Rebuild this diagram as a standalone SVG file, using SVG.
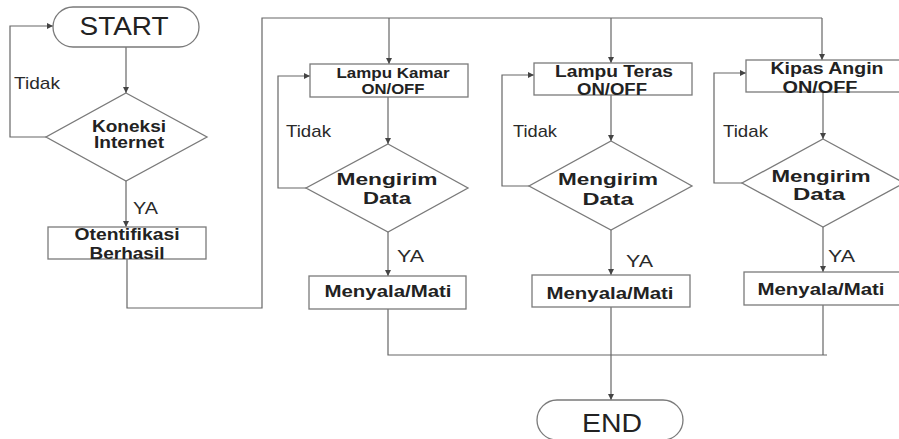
<svg xmlns="http://www.w3.org/2000/svg" width="899" height="439" viewBox="0 0 899 439">
<style>
.shape{fill:#fff;stroke:#7a7a7a;stroke-width:1.3}
.ln{fill:none;stroke:#666;stroke-width:1.2}
.t{font-family:"Liberation Sans",Arial,sans-serif;fill:#222;text-anchor:middle}
.b{font-weight:bold}
.lbl{font-family:"Liberation Sans",Arial,sans-serif;fill:#2a2a2a;font-size:17px}
</style>
<defs>
<marker id="ah" markerUnits="userSpaceOnUse" markerWidth="8" markerHeight="8" refX="6" refY="3" orient="auto">
<path d="M0,0 L6,3 L0,6 Z" fill="#444"/>
</marker>
</defs>
<rect width="899" height="439" fill="#fff"/>
<g id="connectors">
<path class="ln" d="M126,47 V93" marker-end="url(#ah)"/>
<path class="ln" d="M46,137 H10 V26 H53" marker-end="url(#ah)"/>
<path class="ln" d="M126,181 V227" marker-end="url(#ah)"/>
<path class="ln" d="M127,259 V308 H262 V18 H822"/>
<path class="ln" d="M389,18 V64" marker-end="url(#ah)"/>
<path class="ln" d="M611,18 V63" marker-end="url(#ah)"/>
<path class="ln" d="M822,18 V60" marker-end="url(#ah)"/>
<path class="ln" d="M388,97 V144" marker-end="url(#ah)"/>
<path class="ln" d="M306,188 H278 V76 H310" marker-end="url(#ah)"/>
<path class="ln" d="M388,232 V276" marker-end="url(#ah)"/>
<path class="ln" d="M611,95 V141" marker-end="url(#ah)"/>
<path class="ln" d="M529,186 H502 V75 H534" marker-end="url(#ah)"/>
<path class="ln" d="M611,230 V275" marker-end="url(#ah)"/>
<path class="ln" d="M823,92 V139" marker-end="url(#ah)"/>
<path class="ln" d="M742,183 H714 V73 H746" marker-end="url(#ah)"/>
<path class="ln" d="M823,227 V272" marker-end="url(#ah)"/>
<path class="ln" d="M388,309 V355 H827"/>
<path class="ln" d="M823,305 V355"/>
<path class="ln" d="M611,307 V400" marker-end="url(#ah)"/>
<text class="lbl" x="14" y="89" textLength="46" lengthAdjust="spacingAndGlyphs">Tidak</text>
<text class="lbl" x="133" y="214" font-size="19" textLength="25" lengthAdjust="spacingAndGlyphs">YA</text>
<text class="lbl" x="286" y="137" textLength="45" lengthAdjust="spacingAndGlyphs">Tidak</text>
<text class="lbl" x="397" y="262" textLength="27" lengthAdjust="spacingAndGlyphs">YA</text>
<text class="lbl" x="513" y="137" textLength="44" lengthAdjust="spacingAndGlyphs">Tidak</text>
<text class="lbl" x="626" y="267" textLength="27" lengthAdjust="spacingAndGlyphs">YA</text>
<text class="lbl" x="723" y="137" textLength="45" lengthAdjust="spacingAndGlyphs">Tidak</text>
<text class="lbl" x="828" y="262" textLength="27" lengthAdjust="spacingAndGlyphs">YA</text>
</g>
<g id="start">
<rect class="shape" x="53" y="7" width="146" height="40" rx="20"/>
<text class="t" x="124" y="35" font-size="25" textLength="89" lengthAdjust="spacingAndGlyphs">START</text>
</g>
<g id="koneksi">
<polygon class="shape" points="126,93 207,137 126,181 46,137"/>
<text class="t b" x="129" y="132" font-size="16" textLength="74" lengthAdjust="spacingAndGlyphs">Koneksi</text>
<text class="t b" x="129" y="148" font-size="16" textLength="70" lengthAdjust="spacingAndGlyphs">Internet</text>
</g>
<g id="otentifikasi">
<rect class="shape" x="48" y="227" width="158" height="32"/>
<text class="t b" x="127" y="240" font-size="16" textLength="105" lengthAdjust="spacingAndGlyphs">Otentifikasi</text>
<text class="t b" x="127" y="259" font-size="16" textLength="75" lengthAdjust="spacingAndGlyphs">Berhasil</text>
</g>
<g id="lampu-kamar">
<rect class="shape" x="310" y="64" width="158" height="33"/>
<text class="t b" x="393" y="78" font-size="14" textLength="113" lengthAdjust="spacingAndGlyphs">Lampu Kamar</text>
<text class="t b" x="393" y="94" font-size="14" textLength="63" lengthAdjust="spacingAndGlyphs">ON/OFF</text>
</g>
<g id="kirim-1">
<polygon class="shape" points="388,144 468,188 388,232 306,188"/>
<text class="t b" x="387" y="185" font-size="16" textLength="101" lengthAdjust="spacingAndGlyphs">Mengirim</text>
<text class="t b" x="387" y="204" font-size="16" textLength="48" lengthAdjust="spacingAndGlyphs">Data</text>
</g>
<g id="nyala-1">
<rect class="shape" x="309" y="276" width="157" height="33"/>
<text class="t b" x="388" y="297" font-size="16" textLength="127" lengthAdjust="spacingAndGlyphs">Menyala/Mati</text>
</g>
<g id="lampu-teras">
<rect class="shape" x="534" y="63" width="158" height="32"/>
<text class="t b" x="614" y="77" font-size="16" textLength="118" lengthAdjust="spacingAndGlyphs">Lampu Teras</text>
<text class="t b" x="612" y="95" font-size="16" textLength="70" lengthAdjust="spacingAndGlyphs">ON/OFF</text>
</g>
<g id="kirim-2">
<polygon class="shape" points="611,141 692,186 611,230 529,186"/>
<text class="t b" x="608" y="185" font-size="16" textLength="100" lengthAdjust="spacingAndGlyphs">Mengirim</text>
<text class="t b" x="608" y="205" font-size="16" textLength="51" lengthAdjust="spacingAndGlyphs">Data</text>
</g>
<g id="nyala-2">
<rect class="shape" x="532" y="275" width="158" height="32"/>
<text class="t b" x="610" y="299" font-size="16" textLength="127" lengthAdjust="spacingAndGlyphs">Menyala/Mati</text>
</g>
<g id="kipas-angin">
<rect class="shape" x="746" y="60" width="158" height="32"/>
<text class="t b" x="827" y="74" font-size="16" textLength="113" lengthAdjust="spacingAndGlyphs">Kipas Angin</text>
<text class="t b" x="820" y="93" font-size="16" textLength="75" lengthAdjust="spacingAndGlyphs">ON/OFF</text>
</g>
<g id="kirim-3">
<polygon class="shape" points="823,139 904,183 823,227 742,183"/>
<text class="t b" x="821" y="182" font-size="16" textLength="99" lengthAdjust="spacingAndGlyphs">Mengirim</text>
<text class="t b" x="819" y="200" font-size="16" textLength="52" lengthAdjust="spacingAndGlyphs">Data</text>
</g>
<g id="nyala-3">
<rect class="shape" x="744" y="272" width="158" height="33"/>
<text class="t b" x="821" y="295" font-size="16" textLength="127" lengthAdjust="spacingAndGlyphs">Menyala/Mati</text>
</g>
<g id="end">
<rect class="shape" x="537" y="400" width="146" height="40" rx="20"/>
<text class="t" x="612" y="432" font-size="26" textLength="60" lengthAdjust="spacingAndGlyphs">END</text>
</g>
</svg>
